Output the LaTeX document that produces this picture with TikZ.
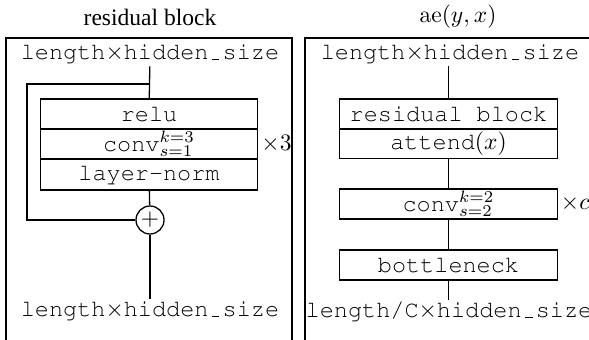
\documentclass[tikz,border=0pt]{standalone}
\usepackage[T1]{fontenc}
\usepackage{fontspec}
\newfontfamily\timesf{Liberation Serif}
\newcommand\cour{\fontencoding{T1}\fontfamily{pcr}\selectfont}
\newcommand\usc{\makebox[0.6em]{\rule{0.32em}{0.45pt}}}
\begin{document}
\begin{tikzpicture}[x=0.425pt,y=-0.425pt,line width=0.55pt,
  lbl/.style={font=\cour,inner sep=1pt},
  row/.style={draw,font=\cour,minimum width=92.5pt,minimum height=12.8pt,inner sep=0pt,anchor=center},
  frame/.style={draw},
  wire/.style={draw}]
\useasboundingbox (0,0) rectangle (589,339);
% titles
\node[font=\timesf] (t1) at (150,17) {residual block};
\node (t2) at (458,17) {$\mathrm{ae}(y,x)$};
% frames
\draw[frame] (6,345) -- (6,38) -- (292,38) -- (292,345);
\draw[frame] (305,345) -- (305,38) -- (600,38);
% left panel
\node[lbl] (in1) at (150,54) {length$\times$hidden\usc size};
\node[row] (relu) at (149,114) {relu};
\node[row] (conv) at (149,144) {conv$^{k=3}_{s=1}$};
\node[row,minimum height=13.2pt] (ln) at (149,174.5) {layer-norm};
\node[draw,circle,minimum size=11.9pt,inner sep=0pt] (plus) at (150,220) {$+$};
\node[lbl] (out1) at (150,311) {length$\times$hidden\usc size};
\node[anchor=west,inner sep=1pt] (x3) at (conv.east) {$\times3$};
\coordinate (sp) at (150,84);
\coordinate (lp) at (27,84);
\draw[wire] (in1) -- (relu);
\draw[wire] (sp) -- (lp) |- (plus);
\draw[wire] (ln) -- (plus);
\draw[wire] (plus) -- (out1);
% right panel
\node[lbl] (in2) at (450,54) {length$\times$hidden\usc size};
\node[row] (rb) at (448.5,114) {residual block};
\node[row] (att) at (448.5,143.5) {attend$(x)$};
\node[row] (cv2) at (448.5,204) {conv$^{k=2}_{s=2}$};
\node[row] (bn) at (448.5,265) {bottleneck};
\node[lbl] (out2) at (449,312) {length/C$\times$hidden\usc size};
\node[anchor=west,inner sep=1pt] (xc) at (cv2.east) {$\times c$};
\draw[wire] (rb.north |- in2.south) -- (rb.north);
\draw[wire] (att) -- (cv2);
\draw[wire] (cv2) -- (bn);
\draw[wire] (bn.south) -- (bn.south |- out2.north);
\end{tikzpicture}
\end{document}
